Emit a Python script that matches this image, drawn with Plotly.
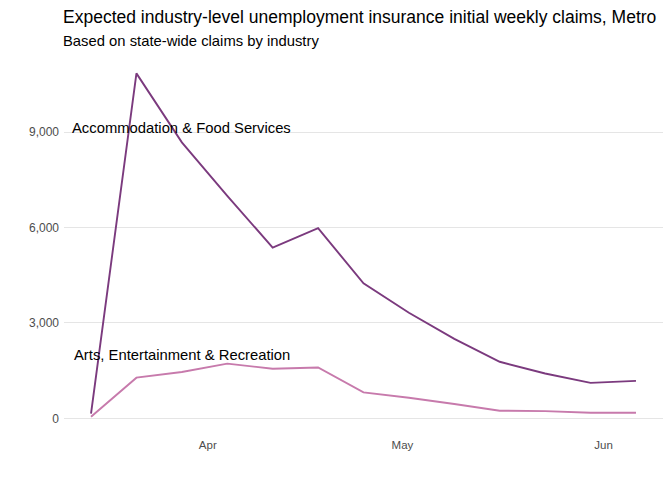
import plotly.graph_objects as go

weeks = ["2020-03-14", "2020-03-21", "2020-03-28", "2020-04-04", "2020-04-11",
         "2020-04-18", "2020-04-25", "2020-05-02", "2020-05-09", "2020-05-16",
         "2020-05-23", "2020-05-30", "2020-06-06"]
accommodation = [150, 10850, 8680, 7000, 5370, 5980, 4250, 3320, 2500, 1780, 1410, 1115, 1180]
arts = [50, 1280, 1460, 1720, 1560, 1600, 815, 650, 450, 240, 228, 175, 175]

series_names = ["Accommodation & Food Services", "Arts, Entertainment & Recreation"]
series_colors = ["#7B3A7E", "#C77AAC"]
label_date = "2020-03-28"
label_values = [9140, 1990]

tick_vals = [0, 3000, 6000, 9000]
tick_text = ["0", "3,000", "6,000", "9,000"]
x_ticks = ["2020-04-01", "2020-05-01", "2020-06-01"]
x_tick_text = ["Apr", "May", "Jun"]

W, H = 664, 464
L, T, R, B = 56, 46, 9, 36
plot_h = H - T - B

fig = go.Figure()
for name, vals, col in zip(series_names, [accommodation, arts], series_colors):
    fig.add_trace(go.Scatter(x=weeks, y=vals, mode="lines", name=name,
                             line=dict(color=col, width=1.9), showlegend=False))

for name, yv in zip(series_names, label_values):
    fig.add_annotation(x=label_date, y=yv, text=name, showarrow=False,
                       xanchor="center", yanchor="middle",
                       font=dict(size=14.8, color="#000000"))

fig.update_layout(
    width=W, height=H,
    margin=dict(l=L, r=R, t=T, b=B),
    paper_bgcolor="white", plot_bgcolor="white",
    font=dict(family="Liberation Sans, Arial, sans-serif"),
    title=dict(text="Expected industry-level unemployment insurance initial weekly claims, Metro",
               x=55 / W, xref="container", xanchor="left", y=1 - 9 / H, yanchor="middle",
               font=dict(size=17.5, color="#000000")),
    xaxis=dict(type="date", range=["2020-03-09 20:00", "2020-06-10 04:00"],
               tickvals=x_ticks, ticktext=x_tick_text, showgrid=False,
               zeroline=False, showline=False, ticks="",
               tickfont=dict(size=11.5, color="#4D4D4D")),
    yaxis=dict(range=[-555, 11460], tickvals=tick_vals, ticktext=tick_text,
               showgrid=True, gridcolor="#E5E5E5", gridwidth=1,
               zeroline=False, showline=False, ticks="",
               ticklabelstandoff=4,
               tickfont=dict(size=12, color="#4D4D4D")),
)
fig.add_annotation(text="Based on state-wide claims by industry", xref="paper", yref="paper",
                   x=0, y=1 + (T - 33) / plot_h, xanchor="left", yanchor="middle", xshift=-3,
                   showarrow=False, font=dict(size=14.8, color="#000000"))

fig.write_html("out.html")
